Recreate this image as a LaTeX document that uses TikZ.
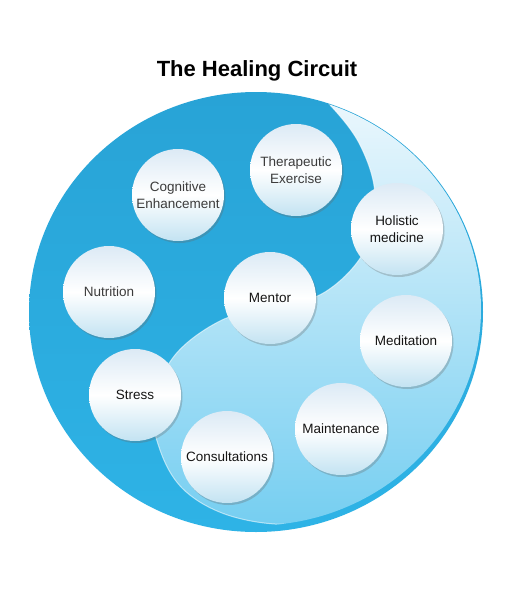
\documentclass[tikz,border=0pt]{standalone}
\usepackage{fontspec}
\setmainfont{Liberation Sans}
\usetikzlibrary{shadows}
\definecolor{darkA}{HTML}{28A3D6}
\definecolor{darkB}{HTML}{2EB3E6}
\definecolor{lightTop}{HTML}{F6FBFE}
\definecolor{lightMid}{HTML}{BDE7F8}
\definecolor{lightBot}{HTML}{5BC5EE}
\definecolor{ballTop}{HTML}{DCEAF5}
\definecolor{ballBot}{HTML}{C3E3F2}
\definecolor{txtgray}{HTML}{3C3C3C}
\definecolor{txtdark}{HTML}{151515}
\tikzset{
  ball/.style={circle, minimum size=92pt, inner sep=0pt, align=center,
    top color=ballTop, bottom color=ballBot, middle color=white,
    font=\fontsize{13.5}{17}\selectfont,
    drop shadow={shadow xshift=1.5pt, shadow yshift=-2pt, opacity=0.3, fill=black!60}},
  grayball/.style={ball, text=txtgray},
  darkball/.style={ball, text=txtdark}
}
\begin{document}
\begin{tikzpicture}[x=1pt,y=-1pt]
\useasboundingbox[fill=white] (0,0) rectangle (525,600);
% title
\node[font=\bfseries\fontsize{22}{26}\selectfont] (title) at (257,71) {The Healing Circuit};
% dark disc
\shade[top color=darkA, bottom color=darkB] (256,312) ellipse [x radius=227, y radius=220];
% light region
\begin{scope}
  \clip (255,309) ellipse [x radius=226, y radius=216.5];
  \shade[top color=lightTop, middle color=lightMid, bottom color=lightBot]
    plot[smooth, tension=0.6] coordinates {(300,80) (330,105) (360,145) (375,195) (365,250) (325,292) (270,309) (222,320) (175,355) (153,405) (160,450) (182,488) (222,513) (275,524) (330,520)}
    -- (600,620) -- (600,60) -- cycle;
  \draw[white, opacity=0.55, line width=1pt]
    plot[smooth, tension=0.6] coordinates {(300,80) (330,105) (360,145) (375,195) (365,250) (325,292) (270,309) (222,320) (175,355) (153,405) (160,450) (182,488) (222,513) (275,524) (330,520)};
\end{scope}
% balls
\node[grayball] (cog)  at (178,195) {Cognitive\\Enhancement};
\node[grayball] (ther) at (296,170) {Therapeutic\\Exercise};
\node[darkball] (hol)  at (397,229) {Holistic\\medicine};
\node[grayball] (nut)  at (109,292) {Nutrition};
\node[darkball] (men)  at (270,298) {Mentor};
\node[darkball] (med)  at (406,341) {Meditation};
\node[darkball] (str)  at (135,395) {Stress};
\node[darkball] (mai)  at (341,429) {Maintenance};
\node[darkball] (con)  at (227,457) {Consultations};
\end{tikzpicture}
\end{document}
